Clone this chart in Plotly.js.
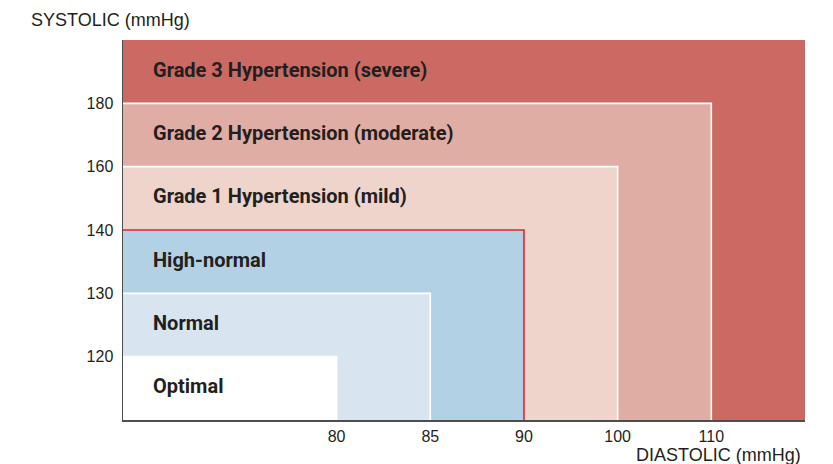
<!DOCTYPE html>
<html>
<head>
<meta charset="utf-8">
<script src="https://cdn.plot.ly/plotly-3.0.1.min.js"></script>
<style>html,body{margin:0;padding:0;background:#fff;}#chart{width:833px;height:464px;}</style>
</head>
<body>
<div id="chart"></div>
<script>
// Categories from largest (drawn first) to smallest
const categories = ['Grade 3 Hypertension (severe)', 'Grade 2 Hypertension (moderate)', 'Grade 1 Hypertension (mild)', 'High-normal', 'Normal', 'Optimal'];
// Upper bounds (null = open ended, fills to the edge)
const systolicUpper = [null, 180, 160, 140, 130, 120];
const diastolicUpper = [null, 110, 100, 90, 85, 80];
const colors = ['#CB6963', '#E0ADA5', '#EED4CA', '#B3D1E5', '#D8E5F0', '#FFFFFF'];
const borderColors = ['#CB6963', '#FFFFFF', '#FFFFFF', '#E8232B', '#FFFFFF', '#FFFFFF'];
// Tick labels (evenly spaced levels)
const systolicTicks = [120, 130, 140, 160, 180];
const diastolicTicks = [80, 85, 90, 100, 110];

const Y_MIN = 0, Y_MAX = systolicTicks.length + 1;
const X_MIN = -1.28, X_MAX = diastolicTicks.length + 1;
const yPos = v => v === null ? Y_MAX : systolicTicks.indexOf(v) + 1;
const xPos = v => v === null ? X_MAX : diastolicTicks.indexOf(v) + 1;

const traces = [];
categories.forEach((c, i) => {
  const x1 = xPos(diastolicUpper[i]), y1 = yPos(systolicUpper[i]);
  traces.push({
    type: 'scatter', mode: 'lines', x: [X_MIN, x1, x1, X_MIN, X_MIN], y: [Y_MIN, Y_MIN, y1, y1, Y_MIN],
    fill: 'toself', fillcolor: colors[i], line: {width: 0, color: colors[i]}, hoverinfo: 'text', text: c, showlegend: false
  });
  if (i > 0) {
    traces.push({
      type: 'scatter', mode: 'lines', x: [X_MIN, x1, x1], y: [y1, y1, Y_MIN],
      line: {width: 1.6, color: borderColors[i]}, hoverinfo: 'skip', showlegend: false
    });
  }
});

const annotations = categories.map((c, i) => {
  const y1 = yPos(systolicUpper[i]);
  return {
    xref: 'x', yref: 'y', x: X_MIN + 0.3, y: y1 - 0.47, xanchor: 'left', yanchor: 'middle',
    text: c, showarrow: false,
    font: {family: 'Roboto, sans-serif', size: 20, weight: 700, color: '#231F20'}
  };
});
annotations.push({
  xref: 'paper', yref: 'paper', x: (29 - 123) / 682, y: 1 + 20 / 380, xanchor: 'left', yanchor: 'middle',
  text: 'SYSTOLIC (mmHg)', showarrow: false, font: {family: 'Liberation Sans, Arial, sans-serif', size: 18, color: '#231F20'}
});
annotations.push({
  xref: 'paper', yref: 'paper', x: 1 - 2 / 682, y: -35 / 380, xanchor: 'right', yanchor: 'middle',
  text: 'DIASTOLIC (mmHg)', showarrow: false, font: {family: 'Liberation Sans, Arial, sans-serif', size: 18, color: '#231F20'}
});

const tickFont = {family: 'Liberation Sans, Arial, sans-serif', size: 16, color: '#231F20'};
const layout = {
  width: 833, height: 464,
  margin: {l: 123, r: 28, t: 40, b: 44},
  paper_bgcolor: '#FFFFFF', plot_bgcolor: '#FFFFFF',
  xaxis: {
    range: [X_MIN, X_MAX], showgrid: false, zeroline: false,
    tickvals: diastolicTicks.map((v, i) => i + 1), ticktext: diastolicTicks.map(String),
    ticks: 'outside', ticklen: 1, tickcolor: 'rgba(0,0,0,0)',
    showline: true, linecolor: '#4D4D4D', linewidth: 1.5, tickfont: tickFont
  },
  yaxis: {
    range: [Y_MIN, Y_MAX], showgrid: false, zeroline: false,
    tickvals: systolicTicks.map((v, i) => i + 1), ticktext: systolicTicks.map(String),
    ticks: 'outside', ticklen: 5, tickcolor: 'rgba(0,0,0,0)',
    showline: true, linecolor: '#4D4D4D', linewidth: 1.5, tickfont: tickFont
  },
  annotations: annotations
};

Plotly.newPlot('chart', traces, layout, {staticPlot: true});
</script>
</body>
</html>
